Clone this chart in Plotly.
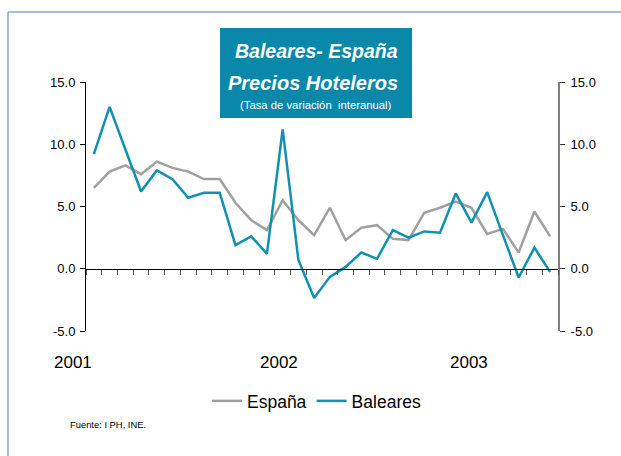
import plotly.graph_objects as go

# ---------------- data ----------------
month_names = ["ene", "feb", "mar", "abr", "may", "jun", "jul", "ago", "sep", "oct", "nov", "dic"]
years = ["01", "02", "03"]
months = [f"{m}-{y}" for y in years for m in month_names][:30]   # ene-01 .. jun-03

espana = [6.5, 7.8, 8.3, 7.6, 8.6, 8.1, 7.8, 7.2, 7.2, 5.3, 3.9, 3.1,
          5.5, 3.9, 2.7, 4.9, 2.3, 3.3, 3.5, 2.4, 2.3, 4.5, 4.9, 5.4,
          4.9, 2.8, 3.2, 1.3, 4.6, 2.6]
baleares = [9.2, 13.0, 9.6, 6.2, 7.9, 7.2, 5.7, 6.1, 6.1, 1.9, 2.6, 1.2,
            11.2, 0.7, -2.35, -0.65, 0.15, 1.3, 0.8, 3.1, 2.5, 3.0, 2.9, 6.05,
            3.7, 6.15, 2.7, -0.7, 1.7, -0.27]

year_labels = ["2001", "2002", "2003"]
year_label_pos = [0, 12, 24]
y_ticks = [-5, 0, 5, 10, 15]
y_tick_text = ["-5.0", "0.0", "5.0", "10.0", "15.0"]

# ---------------- styling ----------------
FONT = "Liberation Sans, Arial, Helvetica, sans-serif"
GREY = "#A0A0A0"
BLUE = "#1190B2"
BOX = "#0A88AA"

W, H = 621, 456
L, R, T, B = 86, 63, 82, 125
PW, PH = W - L - R, H - T - B


def px(x):
    return (x - L) / PW


def py(y):
    return (H - B - y) / PH


fig = go.Figure()
fig.add_trace(go.Scatter(x=months, y=espana, name="España", mode="lines",
                         line=dict(color=GREY, width=2.5)))
fig.add_trace(go.Scatter(x=months, y=baleares, name="Baleares", mode="lines",
                         line=dict(color=BLUE, width=2.5)))
# invisible trace to activate the right-hand axis
fig.add_trace(go.Scatter(x=months, y=espana, yaxis="y2", mode="lines",
                         line=dict(color="rgba(0,0,0,0)"), showlegend=False,
                         hoverinfo="skip"))

fig.update_layout(
    width=W, height=H,
    paper_bgcolor="white", plot_bgcolor="white",
    margin=dict(l=L, r=R, t=T, b=B, autoexpand=False),
    font=dict(family=FONT, color="black", size=13),
    xaxis=dict(type="category", range=[-0.5, 29.5], showgrid=False, zeroline=False,
               showline=True, linecolor="black", linewidth=1,
               anchor="free", position=0.25,
               ticks="outside", ticklen=5, tickcolor="#555555", tickson="boundaries",
               showticklabels=False),
    yaxis=dict(range=[-5, 15], tickvals=y_ticks, ticktext=y_tick_text, showgrid=False,
               zeroline=False, showline=True, linecolor="black", linewidth=1,
               ticks="outside", ticklen=5, tickcolor="black", ticklabelstandoff=2,
               tickfont=dict(size=13, family=FONT)),
    yaxis2=dict(range=[-5, 15], tickvals=y_ticks, ticktext=y_tick_text, overlaying="y",
                side="right", showgrid=False, zeroline=False, showline=True,
                linecolor="#7F7F7F", linewidth=2, ticks="outside", ticklen=5,
                tickcolor="#333333", ticklabelstandoff=3,
                tickfont=dict(size=13, family=FONT)),
    legend=dict(orientation="h", x=px(207), xanchor="left", y=py(401), yanchor="middle",
                font=dict(size=17.5, family=FONT), itemwidth=30, bgcolor="rgba(0,0,0,0)",
                tracegroupgap=0),
    showlegend=True,
)

shapes = [
    # title box
    dict(type="rect", xref="paper", yref="paper", x0=px(220), x1=px(412),
         y0=py(118), y1=py(28), fillcolor=BOX, line=dict(width=0), layer="below"),
    # page frame
    dict(type="line", xref="paper", yref="paper", x0=px(8), x1=px(8),
         y0=py(12), y1=py(460), line=dict(color="#8EA6CF", width=1.5)),
    dict(type="line", xref="paper", yref="paper", x0=px(8), x1=px(625),
         y0=py(12), y1=py(12), line=dict(color="#8EA6CF", width=1.5)),
]
fig.update_layout(shapes=shapes)

ann = [
    dict(text="<b><i>Baleares- España</i></b>", x=px(316), y=py(51), xref="paper", yref="paper",
         showarrow=False, font=dict(size=19.5, color="white", family=FONT),
         xanchor="center", yanchor="middle"),
    dict(text="<b><i>Precios Hoteleros</i></b>", x=px(313), y=py(83), xref="paper", yref="paper",
         showarrow=False, font=dict(size=20, color="white", family=FONT),
         xanchor="center", yanchor="middle"),
    dict(text="(Tasa de variación  interanual)", x=px(316), y=py(105), xref="paper", yref="paper",
         showarrow=False, font=dict(size=11.3, color="white", family=FONT),
         xanchor="center", yanchor="middle"),
    dict(text="Fuente: I PH, INE.", x=px(68), y=py(424), xref="paper", yref="paper",
         showarrow=False, font=dict(size=9.4, color="black", family=FONT),
         xanchor="left", yanchor="middle"),
]
shifts = [-21, -4, -2]
for lab, pos, sh in zip(year_labels, year_label_pos, shifts):
    ann.append(dict(text=lab, x=months[pos], y=py(362), xref="x", yref="paper",
                    xshift=sh, showarrow=False,
                    font=dict(size=17, color="black", family=FONT),
                    xanchor="center", yanchor="middle"))
fig.update_layout(annotations=ann)

fig.write_html("out.html", config={"displayModeBar": False},
               post_script="document.body.style.margin='0';")
